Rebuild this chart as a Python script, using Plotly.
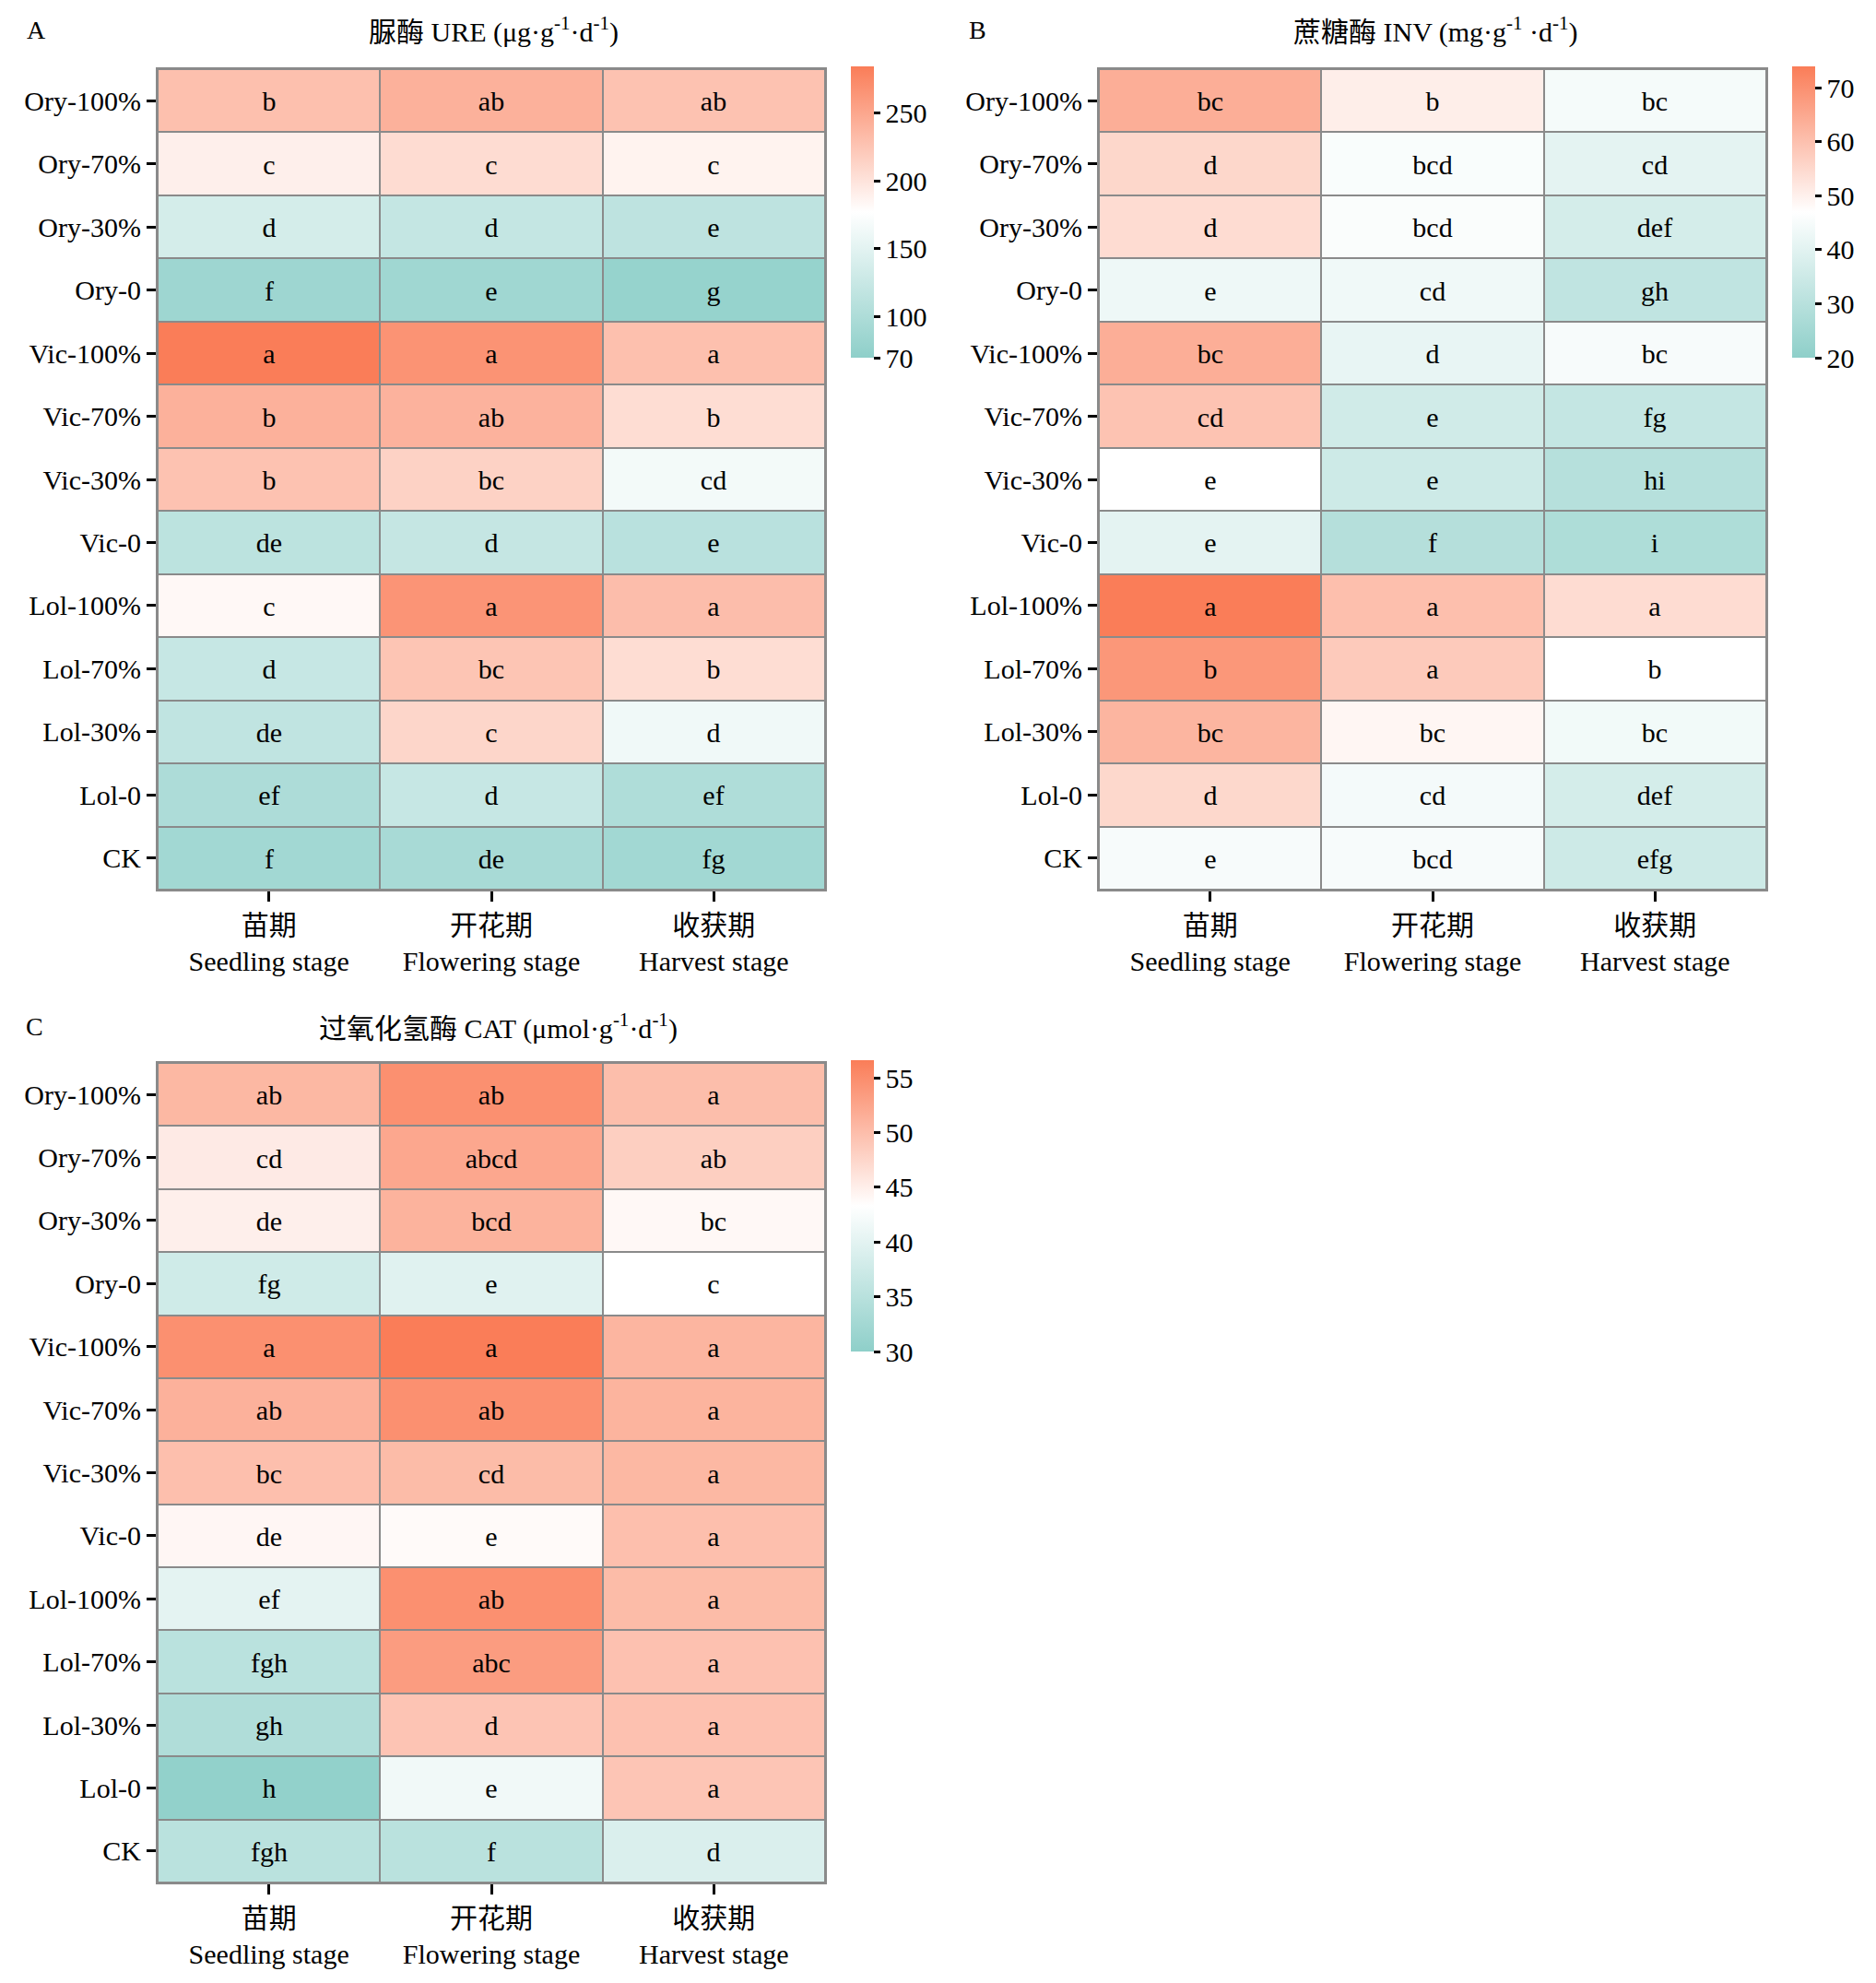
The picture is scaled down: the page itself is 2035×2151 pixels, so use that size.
import plotly.graph_objects as go

# the page body keeps its default 8px margin, so the figure is drawn 8px in
W, H = 2035, 2151
OFF = 8
FW, FH = W - OFF, H - OFF

treatments = ["Ory-100%", "Ory-70%", "Ory-30%", "Ory-0",
              "Vic-100%", "Vic-70%", "Vic-30%", "Vic-0",
              "Lol-100%", "Lol-70%", "Lol-30%", "Lol-0", "CK"]
stages = ["苗期<br>Seedling stage", "开花期<br>Flowering stage", "收获期<br>Harvest stage"]

# values per treatment: [seedling, flowering, harvest]
ure_vals = [[229, 241, 227], [190, 206, 187], [136, 121, 115], [85, 87, 78],
            [284, 266, 229], [241, 240, 205], [227, 214, 166], [114, 122, 111],
            [183, 265, 231], [123, 225, 205], [117, 211, 163], [99, 123, 101],
            [89, 95, 89]]
ure_sig = [["b", "ab", "ab"], ["c", "c", "c"], ["d", "d", "e"], ["f", "e", "g"],
           ["a", "a", "a"], ["b", "ab", "b"], ["b", "bc", "cd"], ["de", "d", "e"],
           ["c", "a", "a"], ["d", "bc", "b"], ["de", "c", "d"], ["ef", "d", "ef"],
           ["f", "de", "fg"]]

inv_vals = [[63.8, 50.5, 44.6], [55.4, 45.6, 40.5], [54.3, 45.7, 36.7], [43.0, 43.5, 31.9],
            [63.8, 41.6, 45.0], [59.4, 35.7, 33.0], [47.0, 35.0, 29.5], [40.5, 29.2, 27.6],
            [74.0, 60.2, 54.3], [68.6, 58.0, 47.0], [62.4, 48.9, 44.0], [55.2, 44.3, 36.7],
            [45.0, 45.0, 35.0]]
inv_sig = [["bc", "b", "bc"], ["d", "bcd", "cd"], ["d", "bcd", "def"], ["e", "cd", "gh"],
           ["bc", "d", "bc"], ["cd", "e", "fg"], ["e", "e", "hi"], ["e", "f", "i"],
           ["a", "a", "a"], ["b", "a", "b"], ["bc", "bc", "bc"], ["d", "cd", "def"],
           ["e", "bcd", "efg"]]

cat_vals = [[50.6, 54.7, 50.0], [45.4, 52.3, 48.2], [44.9, 51.1, 44.0], [37.7, 39.7, 43.3],
            [54.7, 56.6, 50.9], [51.3, 54.7, 51.0], [49.8, 50.2, 50.6], [44.2, 43.8, 49.8],
            [40.1, 54.7, 50.2], [35.2, 53.4, 49.6], [34.0, 49.3, 49.6], [30.5, 41.6, 49.2],
            [35.2, 35.2, 38.9]]
cat_sig = [["ab", "ab", "a"], ["cd", "abcd", "ab"], ["de", "bcd", "bc"], ["fg", "e", "c"],
           ["a", "a", "a"], ["ab", "ab", "a"], ["bc", "cd", "a"], ["de", "e", "a"],
           ["ef", "ab", "a"], ["fgh", "abc", "a"], ["gh", "d", "a"], ["h", "e", "a"],
           ["fgh", "f", "d"]]

ure_ticks = [70, 100, 150, 200, 250]
inv_ticks = [20, 30, 40, 50, 60, 70]
cat_ticks = [30, 35, 40, 45, 50, 55]

FONT = "Liberation Serif, Times New Roman, Noto Sans CJK SC"
scale = [[0, "#8ECFC9"], [0.5, "#FFFFFF"], [1, "#FA7D58"]]


def px_x(v):
    return (v - OFF) / FW


def px_y(v):
    return 1 - (v - OFF) / FH


panels = [
    # values, letters, ticks, zmin, zmax, axis box (l, r, top, bottom), colorbar x
    (ure_vals, ure_sig, ure_ticks, 70, 284, (171, 895, 75, 965), 923),
    (inv_vals, inv_sig, inv_ticks, 20, 74, (1192, 1916, 75, 965), 1944),
    (cat_vals, cat_sig, cat_ticks, 30, 56.6, (171, 895, 1153, 2042), 923),
]

fig = go.Figure()
layout = {}
for i, (vals, sig, ticks, zmin, zmax, box, cbx) in enumerate(panels):
    n = "" if i == 0 else str(i + 1)
    l, r, t, b = box
    fig.add_trace(go.Heatmap(
        z=vals, x=stages, y=treatments, text=sig,
        texttemplate="%{text}", textfont=dict(family=FONT, size=30, color="black"),
        colorscale=scale, zmin=zmin, zmax=zmax, xgap=2, ygap=2,
        xaxis="x" + n, yaxis="y" + n, hoverinfo="skip",
        colorbar=dict(
            x=px_x(cbx), xanchor="left", xpad=0, ypad=0,
            y=px_y(t - 3 + 158), yanchor="middle",
            len=316, lenmode="pixels", thickness=25, outlinewidth=0,
            tickvals=ticks, ticks="outside", ticklen=7, tickwidth=3,
            tickcolor="black", tickfont=dict(family=FONT, size=30, color="black"),
        ),
    ))
    layout["xaxis" + n] = dict(
        domain=[px_x(l), px_x(r)], anchor="y" + n,
        ticks="outside", ticklen=11, tickwidth=3, tickcolor="black",
        tickfont=dict(family=FONT, size=30, color="black"),
        showline=True, linecolor="#8a8a8a", linewidth=2, mirror=True,
        showgrid=False, zeroline=False, fixedrange=True,
    )
    layout["yaxis" + n] = dict(
        domain=[px_y(b), px_y(t)], anchor="x" + n,
        categoryorder="array", categoryarray=treatments, autorange="reversed",
        ticks="outside", ticklen=10, tickwidth=3, tickcolor="black",
        tickfont=dict(family=FONT, size=30, color="black"),
        showline=True, linecolor="#8a8a8a", linewidth=2, mirror=True,
        showgrid=False, zeroline=False, fixedrange=True,
    )

titles = [
    ("A", 39, 33, "脲酶 URE (μg·g<sup>-1</sup>·d<sup>-1</sup>)", 535, 33),
    ("B", 1060, 33, "蔗糖酶 INV (mg·g<sup>-1</sup> ·d<sup>-1</sup>)", 1557, 33),
    ("C", 37, 1113, "过氧化氢酶 CAT (μmol·g<sup>-1</sup>·d<sup>-1</sup>)", 540, 1113),
]
annotations = []
for letter, lx, ly, text, tx, ty in titles:
    annotations.append(dict(text=letter, x=px_x(lx), y=px_y(ly), xref="paper", yref="paper",
                            showarrow=False, xanchor="center", yanchor="middle",
                            font=dict(family=FONT, size=28, color="black")))
    annotations.append(dict(text=text, x=px_x(tx), y=px_y(ty), xref="paper", yref="paper",
                            showarrow=False, xanchor="center", yanchor="middle",
                            font=dict(family=FONT, size=30, color="black")))

fig.update_layout(
    width=FW, height=FH, margin=dict(l=0, r=0, t=0, b=0),
    paper_bgcolor="white", plot_bgcolor="#8a8a8a",
    font=dict(family=FONT, color="black"),
    annotations=annotations, **layout,
)

fig.write_html("out.html")
